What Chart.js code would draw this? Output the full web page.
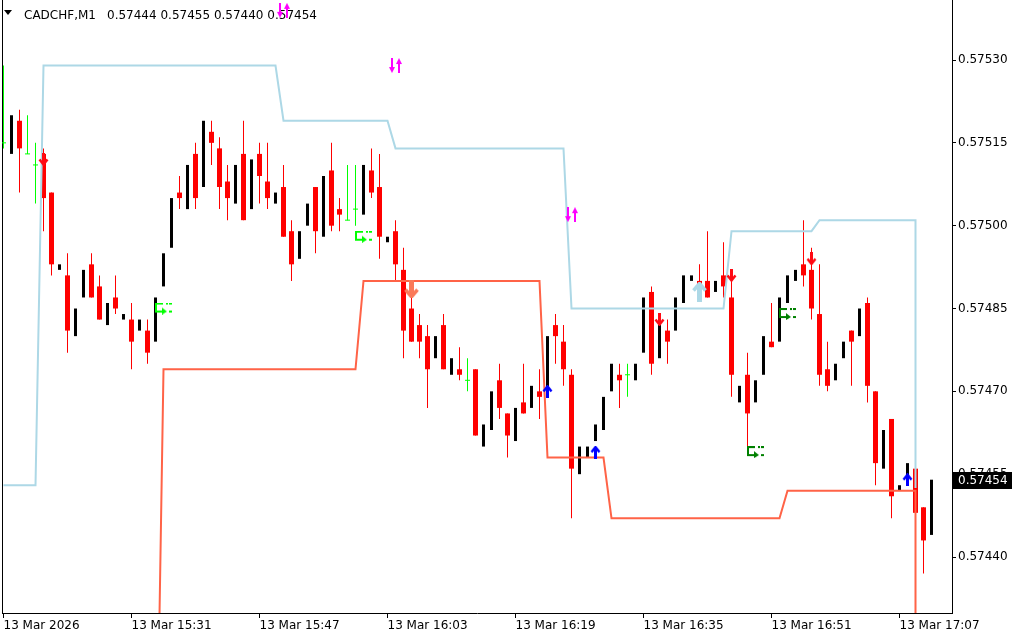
<!DOCTYPE html>
<html>
<head>
<meta charset="utf-8">
<title>CADCHF,M1</title>
<script src="https://cdn.jsdelivr.net/npm/chart.js@4.4.1/dist/chart.umd.min.js"></script>
<style>
    html, body { margin: 0; padding: 0; background: #ffffff; }
    #chart { display: block; }
</style>
</head>
<body>
<canvas id="chart" width="1024" height="640"></canvas>
<script>
// CADCHF M1 candles, bar 0 = 13 Mar 15:15
const opens = [
    0.57515, 0.57513, 0.57519, 0.57513, 0.57511, 0.57513, 0.57506, 0.57492, 0.57491, 0.57480,
    0.57487, 0.57493, 0.57489, 0.57482, 0.57487, 0.57483, 0.57483, 0.57481, 0.57481, 0.57479,
    0.57489, 0.57496, 0.57506, 0.57503, 0.57513, 0.57507, 0.57517, 0.57514, 0.57508, 0.57504,
    0.57513, 0.57503, 0.57513, 0.57508, 0.57504, 0.57507, 0.57499, 0.57494, 0.57500, 0.57507,
    0.57498, 0.57510, 0.57503, 0.57501, 0.57503, 0.57502, 0.57510, 0.57507, 0.57497, 0.57499,
    0.57492, 0.57485, 0.57482, 0.57480, 0.57476, 0.57482, 0.57473, 0.57474, 0.57472, 0.57474,
    0.57460, 0.57463, 0.57472, 0.57466, 0.57461, 0.57468, 0.57467, 0.57470, 0.57469, 0.57482,
    0.57479, 0.57473, 0.57455, 0.57458, 0.57461, 0.57463, 0.57470, 0.57473, 0.57473, 0.57472,
    0.57477, 0.57488, 0.57476, 0.57481, 0.57481, 0.57486, 0.57490, 0.57490, 0.57490, 0.57488,
    0.57491, 0.57487, 0.57468, 0.57473, 0.57468, 0.57473, 0.57479, 0.57479, 0.57486, 0.57490,
    0.57493, 0.57492, 0.57484, 0.57474, 0.57472, 0.57476, 0.57481, 0.57480, 0.57486, 0.57470,
    0.57456, 0.57465, 0.57452, 0.57454, 0.57456, 0.57449, 0.57444
];
const highs = [
    0.57529, 0.57520, 0.57521, 0.57520, 0.57515, 0.57514, 0.57506, 0.57493, 0.57495, 0.57485,
    0.57492, 0.57495, 0.57491, 0.57486, 0.57491, 0.57484, 0.57486, 0.57483, 0.57483, 0.57487,
    0.57495, 0.57505, 0.57509, 0.57511, 0.57515, 0.57519, 0.57519, 0.57516, 0.57511, 0.57511,
    0.57519, 0.57512, 0.57515, 0.57515, 0.57506, 0.57511, 0.57501, 0.57499, 0.57504, 0.57507,
    0.57509, 0.57515, 0.57505, 0.57511, 0.57511, 0.57511, 0.57514, 0.57513, 0.57498, 0.57501,
    0.57496, 0.57489, 0.57484, 0.57482, 0.57480, 0.57484, 0.57476, 0.57478, 0.57476, 0.57474,
    0.57464, 0.57470, 0.57475, 0.57466, 0.57467, 0.57475, 0.57471, 0.57474, 0.57480, 0.57484,
    0.57482, 0.57474, 0.57460, 0.57460, 0.57464, 0.57469, 0.57475, 0.57475, 0.57475, 0.57475,
    0.57487, 0.57489, 0.57482, 0.57483, 0.57487, 0.57491, 0.57491, 0.57493, 0.57499, 0.57490,
    0.57497, 0.57490, 0.57471, 0.57477, 0.57472, 0.57480, 0.57486, 0.57487, 0.57491, 0.57492,
    0.57501, 0.57496, 0.57493, 0.57479, 0.57475, 0.57479, 0.57481, 0.57485, 0.57487, 0.57470,
    0.57463, 0.57465, 0.57453, 0.57457, 0.57456, 0.57449, 0.57455
];
const lows = [
    0.57514, 0.57513, 0.57506, 0.57513, 0.57504, 0.57499, 0.57491, 0.57492, 0.57477, 0.57480,
    0.57487, 0.57487, 0.57483, 0.57482, 0.57484, 0.57483, 0.57474, 0.57481, 0.57475, 0.57479,
    0.57489, 0.57496, 0.57503, 0.57503, 0.57503, 0.57507, 0.57511, 0.57503, 0.57501, 0.57504,
    0.57501, 0.57503, 0.57504, 0.57503, 0.57504, 0.57498, 0.57490, 0.57494, 0.57500, 0.57495,
    0.57498, 0.57499, 0.57499, 0.57501, 0.57500, 0.57502, 0.57505, 0.57494, 0.57497, 0.57490,
    0.57476, 0.57479, 0.57476, 0.57467, 0.57476, 0.57474, 0.57473, 0.57472, 0.57470, 0.57462,
    0.57460, 0.57463, 0.57465, 0.57458, 0.57461, 0.57466, 0.57467, 0.57465, 0.57469, 0.57475,
    0.57471, 0.57447, 0.57455, 0.57458, 0.57461, 0.57463, 0.57470, 0.57467, 0.57469, 0.57472,
    0.57477, 0.57473, 0.57476, 0.57475, 0.57481, 0.57486, 0.57490, 0.57489, 0.57487, 0.57488,
    0.57487, 0.57469, 0.57468, 0.57459, 0.57468, 0.57473, 0.57478, 0.57479, 0.57486, 0.57490,
    0.57489, 0.57483, 0.57471, 0.57470, 0.57472, 0.57476, 0.57471, 0.57480, 0.57468, 0.57453,
    0.57456, 0.57447, 0.57452, 0.57454, 0.57448, 0.57437, 0.57440
];
const closes = [
    0.57515, 0.57520, 0.57514, 0.57513, 0.57511, 0.57505, 0.57493, 0.57493, 0.57481, 0.57485,
    0.57492, 0.57487, 0.57483, 0.57486, 0.57485, 0.57484, 0.57479, 0.57483, 0.57477, 0.57487,
    0.57495, 0.57505, 0.57505, 0.57511, 0.57505, 0.57519, 0.57515, 0.57507, 0.57505, 0.57511,
    0.57501, 0.57512, 0.57509, 0.57505, 0.57506, 0.57498, 0.57493, 0.57499, 0.57504, 0.57499,
    0.57509, 0.57500, 0.57502, 0.57501, 0.57503, 0.57511, 0.57506, 0.57498, 0.57498, 0.57493,
    0.57481, 0.57479, 0.57479, 0.57474, 0.57480, 0.57474, 0.57476, 0.57473, 0.57472, 0.57462,
    0.57464, 0.57470, 0.57467, 0.57462, 0.57467, 0.57466, 0.57471, 0.57469, 0.57480, 0.57480,
    0.57474, 0.57456, 0.57460, 0.57460, 0.57464, 0.57469, 0.57475, 0.57472, 0.57473, 0.57475,
    0.57487, 0.57475, 0.57482, 0.57479, 0.57487, 0.57491, 0.57491, 0.57489, 0.57487, 0.57490,
    0.57489, 0.57473, 0.57471, 0.57466, 0.57472, 0.57480, 0.57478, 0.57487, 0.57491, 0.57492,
    0.57491, 0.57485, 0.57473, 0.57471, 0.57475, 0.57479, 0.57479, 0.57485, 0.57471, 0.57457,
    0.57463, 0.57451, 0.57453, 0.57457, 0.57448, 0.57443, 0.57454
];

// Channel lines (bar index, price)
const upperBandBars = [0, 4, 5, 34, 35, 48, 49, 70, 71, 90, 91, 101, 102, 114, 114];
const upperBandPrices = [0.57453, 0.57453, 0.57529, 0.57529, 0.57519, 0.57519, 0.57514, 0.57514,
    0.57485, 0.57485, 0.57499, 0.57499, 0.57501, 0.57501, 0.574525];
const lowerBandBars = [19, 20, 44, 45, 67, 68, 75, 76, 97, 98, 114, 114];
const lowerBandPrices = [0.57385, 0.57474, 0.57474, 0.57490, 0.57490, 0.57458, 0.57458,
    0.57447, 0.57447, 0.57452, 0.57452, 0.57400];

// Signal arrows
const sellBars = [5, 82, 91, 101];
const sellPrices = [0.57512, 0.57483, 0.57491, 0.57494];
const buyBars = [68, 74, 113];
const buyPrices = [0.57470, 0.57459, 0.57454];
const bigSellBars = [51];
const bigSellPrices = [0.574885];
const bigBuyBars = [87];
const bigBuyPrices = [0.57488];
const alertBars = [35, 49, 71];
const alertPrices = [0.57539, 0.57529, 0.57502];
const exitBars = [20, 45];
const exitPrices = [0.57485, 0.57498];
const exitBars2 = [94, 98];
const exitPrices2 = [0.57459, 0.57484];

// Axes
const xTickBars = [0, 16, 32, 48, 64, 80, 96, 112];
const xTickLabels = ['13 Mar 2026', '13 Mar 15:31', '13 Mar 15:47', '13 Mar 16:03',
    '13 Mar 16:19', '13 Mar 16:35', '13 Mar 16:51', '13 Mar 17:07'];
const yTicks = [0.57440, 0.57455, 0.57470, 0.57485, 0.57500, 0.57515, 0.57530];
const xRange = [-0.1875, 118.5625];
const yRange = [0.5742986, 0.5754087];

const bullColor = '#000000';
const bearColor = '#ff0000';
const dojiColor = '#00ff00';

Chart.defaults.font.family = '"DejaVu Sans", sans-serif';
Chart.defaults.font.size = 12;
Chart.defaults.color = '#000000';

// Small arrow glyphs used as point styles
function makeArrow(w, h, color, up) {
    const c = document.createElement('canvas');
    c.width = w;
    c.height = h;
    const g = c.getContext('2d');
    g.fillStyle = color;
    g.strokeStyle = color;
    if (up) {
        g.translate(0, h);
        g.scale(1, -1);
    }
    const shaft = w > 12 ? 5 : 3;
    g.fillRect((w - shaft) / 2, 0, shaft, h - 2);
    g.lineWidth = w > 12 ? 3.5 : 2.5;
    g.beginPath();
    g.moveTo(1.5, h - w / 2 - 1);
    g.lineTo(w / 2, h - 1.5);
    g.lineTo(w - 1.5, h - w / 2 - 1);
    g.stroke();
    return c;
}

function makeAlert(color) {
    const c = document.createElement('canvas');
    c.width = 13;
    c.height = 15;
    const g = c.getContext('2d');
    g.fillStyle = color;
    // down arrow
    g.fillRect(2, 0, 2, 11);
    g.beginPath();
    g.moveTo(0, 9); g.lineTo(6, 9); g.lineTo(3, 15);
    g.fill();
    // up arrow
    g.fillRect(9, 4, 2, 11);
    g.beginPath();
    g.moveTo(7, 6); g.lineTo(13, 6); g.lineTo(10, 0);
    g.fill();
    return c;
}

function makeExit(color) {
    const c = document.createElement('canvas');
    c.width = 17;
    c.height = 12;
    const g = c.getContext('2d');
    g.fillStyle = color;
    g.fillRect(0, 0, 8, 2);
    g.fillRect(11, 0, 2, 2);
    g.fillRect(14, 0, 3, 2);
    g.fillRect(0, 0, 2, 10);
    g.fillRect(0, 8, 8, 2);
    g.beginPath();
    g.moveTo(7, 5); g.lineTo(12, 9); g.lineTo(7, 12);
    g.fill();
    g.fillRect(14, 8, 3, 2);
    return c;
}

function points(bars, prices) {
    return bars.map((b, i) => ({ x: b, y: prices[i] }));
}

function markerSet(bars, prices, style) {
    return {
        type: 'line',
        data: points(bars, prices),
        showLine: false,
        pointStyle: style,
        pointRadius: 6,
        order: 0
    };
}

// Keep the plot area flush with the canvas edges
function noScalePadding(scale) {
    scale.paddingLeft = 0;
    scale.paddingRight = 0;
    scale.paddingTop = 0;
    scale.paddingBottom = 0;
}

// Split candles into wicks and bodies
const bullBodies = [], bearBodies = [], wicks = [], wickColors = [], dojiTicks = [];
opens.forEach((o, i) => {
    const c = closes[i];
    if (c > o) {
        bullBodies.push({ x: i, y: [o, c] });
        return;
    }
    wicks.push({ x: i, y: [lows[i], highs[i]] });
    if (c < o) {
        bearBodies.push({ x: i, y: [o, c] });
        wickColors.push(bearColor);
    } else {
        dojiTicks.push({ x: i, y: o });
        wickColors.push(dojiColor);
    }
});

// Frame, symbol header and last price label
const mtDecor = {
    id: 'mtDecor',
    beforeDatasetsDraw(chart) {
        const { ctx, chartArea } = chart;
        const last = opens.length - 1;
        ctx.save();
        ctx.fillStyle = '#000000';
        ctx.fillRect(chartArea.left, 0, 1, chartArea.bottom);
        ctx.beginPath();
        ctx.moveTo(4, 10); ctx.lineTo(12, 10); ctx.lineTo(8, 15);
        ctx.fill();
        ctx.font = '12px "DejaVu Sans"';
        ctx.textBaseline = 'alphabetic';
        ctx.fillText('CADCHF,M1', 24, 19);
        const ohlc = [opens[last], highs[last], lows[last], closes[last]].map(v => v.toFixed(5)).join(' ');
        ctx.fillText(ohlc, 107, 19);
        ctx.restore();
    },
    afterDraw(chart) {
        const { ctx, scales } = chart;
        const price = closes[closes.length - 1];
        const y = Math.round(scales.y.getPixelForValue(price));
        ctx.save();
        ctx.fillStyle = '#000000';
        ctx.fillRect(953, y - 8, 59, 17);
        ctx.fillStyle = '#ffffff';
        ctx.font = '12px "DejaVu Sans"';
        ctx.textBaseline = 'middle';
        ctx.fillText(price.toFixed(5), 958, y + 1);
        ctx.restore();
    }
};

const ctx = document.getElementById('chart').getContext('2d');
new Chart(ctx, {
    type: 'bar',
    data: {
        datasets: [
            markerSet(alertBars, alertPrices, makeAlert('#ff00ff')),
            markerSet(sellBars, sellPrices, makeArrow(11, 13, '#ff0a14', false)),
            markerSet(buyBars, buyPrices, makeArrow(11, 13, '#0000ff', true)),
            markerSet(bigSellBars, bigSellPrices, makeArrow(15, 18, '#fa7a5a', false)),
            markerSet(bigBuyBars, bigBuyPrices, makeArrow(15, 20, '#add8e6', true)),
            markerSet(exitBars, exitPrices, makeExit('#00ff00')),
            markerSet(exitBars2, exitPrices2, makeExit('#008000')),
            {
                type: 'line',
                data: points(upperBandBars, upperBandPrices),
                borderColor: '#add8e6',
                borderWidth: 2,
                pointRadius: 0,
                tension: 0,
                order: 1
            },
            {
                type: 'line',
                data: points(lowerBandBars, lowerBandPrices),
                borderColor: '#ff6347',
                borderWidth: 2,
                pointRadius: 0,
                tension: 0,
                order: 1
            },
            {
                type: 'line',
                data: dojiTicks,
                showLine: false,
                pointStyle: 'line',
                pointRadius: 2.5,
                pointBorderColor: dojiColor,
                pointBorderWidth: 1,
                order: 2
            },
            {
                data: bearBodies,
                backgroundColor: bearColor,
                barThickness: 5,
                grouped: false,
                inflateAmount: 0,
                order: 2
            },
            {
                data: bullBodies,
                backgroundColor: bullColor,
                barThickness: 3,
                grouped: false,
                inflateAmount: 0,
                order: 2
            },
            {
                data: wicks,
                backgroundColor: wickColors,
                barThickness: 1,
                grouped: false,
                inflateAmount: 0,
                order: 3
            }
        ]
    },
    options: {
        responsive: false,
        animation: false,
        devicePixelRatio: 1,
        events: [],
        layout: { autoPadding: false, padding: { left: 2, top: 0, right: 0, bottom: 0 } },
        plugins: {
            legend: { display: false },
            tooltip: { enabled: false }
        },
        scales: {
            x: {
                type: 'linear',
                min: xRange[0],
                max: xRange[1],
                offset: false,
                grid: { display: true, drawOnChartArea: false, offset: false, color: '#000000', tickLength: 5 },
                border: { display: true, color: '#000000' },
                ticks: {
                    autoSkip: false,
                    maxRotation: 0,
                    align: 'start',
                    padding: 1,
                    callback: (value, index) => xTickLabels[index]
                },
                afterBuildTicks: scale => { scale.ticks = xTickBars.map(v => ({ value: v })); },
                afterFit: scale => { scale.height = 27; noScalePadding(scale); }
            },
            y: {
                position: 'right',
                min: yRange[0],
                max: yRange[1],
                beginAtZero: false,
                grid: { display: true, drawOnChartArea: false, color: '#000000', tickLength: 4 },
                border: { display: true, color: '#000000' },
                ticks: {
                    padding: 2,
                    callback: value => value.toFixed(5)
                },
                afterBuildTicks: scale => { scale.ticks = yTicks.map(v => ({ value: v })); },
                afterFit: scale => { scale.width = 72; noScalePadding(scale); }
            }
        }
    },
    plugins: [mtDecor]
});
</script>
</body>
</html>
